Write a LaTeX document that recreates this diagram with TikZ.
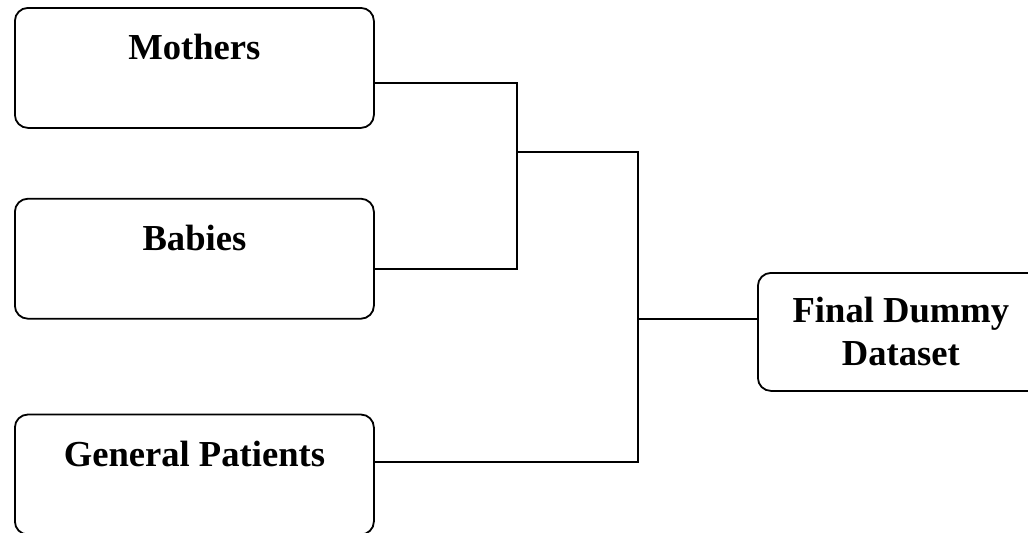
\documentclass[tikz,border=0pt]{standalone}
\usepackage{fontspec}
\setmainfont{Liberation Serif}
\usetikzlibrary{positioning,calc}
\tikzset{
  srcbox/.style={rounded corners=6.5pt, draw=black, line width=0.9pt, inner sep=0pt, minimum width=179.5pt, text height=26pt, text depth=34pt, font=\fontsize{18.3}{21.5}\selectfont\bfseries},
  finalbox/.style={rounded corners=6.5pt, draw=black, line width=0.9pt, inner sep=0pt, minimum width=143pt, minimum height=59pt, align=center, font=\fontsize{18.3}{21.5}\selectfont\bfseries},
  conn/.style={line width=1pt, draw=black},
}

\begin{document}
\begin{tikzpicture}[x=0.5pt, y=-0.5pt]
    \useasboundingbox (0,0) rectangle (1028,532);
    \clip (0,0) rectangle (1028,532);
    % source tables
    \node[srcbox, anchor=north west] (mothers) at (14,7) {Mothers};
    \node[srcbox, below=34.5pt of mothers] (babies) {Babies};
    \node[srcbox, below=47pt of babies] (patients) {General Patients};
    % merged output
    \node[finalbox, anchor=north west] (final) at (757,272) {Final Dummy\\ Dataset};
    % junctions
    \coordinate (jmb) at (517,152);
    \coordinate (jall) at (638,319);
    \draw[conn] ($(mothers.north east)+(0,76)$) -| (jmb) |- ($(babies.north east)+(0,71)$);
    \draw[conn] (jmb) -| (jall) |- ($(patients.north east)+(0,48)$);
    \draw[conn] (jall) -- (final.west |- jall);
  \end{tikzpicture}
\end{document}
